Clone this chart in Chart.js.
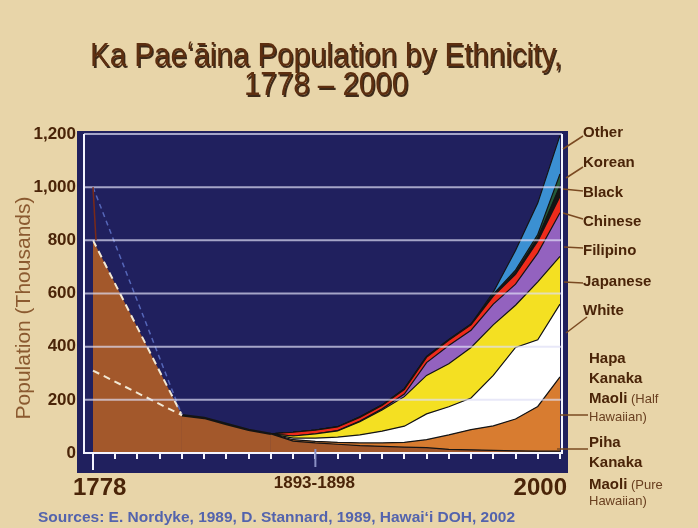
<!DOCTYPE html>
<html>
<head>
<meta charset="utf-8">
<script src="https://cdn.jsdelivr.net/npm/chart.js@4.4.0/dist/chart.umd.min.js"></script>
<style>
  html, body { margin: 0; padding: 0; background: #e8d5a9; }
  canvas { display: block; }
</style>
</head>
<body>
<canvas id="popChart" width="698" height="528"></canvas>
<script>
// Ka Pae'āina population by ethnicity, thousands
const years = ['1778', '1790', '1800', '1810', '1823', '1831', '1836', '1850', '1853', '1872',
  '1893-1898', '1900', '1910', '1920', '1930', '1940', '1950', '1960', '1970', '1980', '1990', '2000'];
const shownYears = ['1778', '1893-1898', '2000'];
const yTicks = [0, 200, 400, 600, 800, 1000, 1200];

const piha     = [800, null, null, null, 142, 132, 109, 87, 72, 45, 38, 33, 28, 25, 22, 20, 14, 12, 10, 8, 7, 7];
const hapa     = [null, null, null, null, null, null, null, null, 0, 5, 6, 7, 10, 13, 18, 30, 54, 76, 92, 120, 168, 279];
const white    = [null, null, null, null, null, null, null, null, 0, 6, 12, 20, 30, 44, 61, 97, 106, 119, 190, 269, 251, 274];
const japanese = [null, null, null, null, null, null, null, null, 0, 8, 16, 23, 50, 80, 111, 145, 162, 190, 190, 159, 218, 180];
const filipino = [null, null, null, null, null, null, null, null, 0, 0, 0, 1, 2, 4, 10, 48, 68, 65, 78, 79, 108, 164];
const chinese  = [null, null, null, null, null, null, null, null, 0, 14, 14, 14, 14, 13, 17, 20, 20, 20, 30, 37, 45, 61];
const black    = [null, null, null, null, null, null, null, null, 0, 0, 0, 0, 1, 1, 1, 1, 1, 1, 5, 8, 13, 40];
const korean   = [null, null, null, null, null, null, null, null, 0, 0, 0, 1, 0, 0, 1, 1, 1, 1, 3, 8, 12, 45];
const other    = [null, null, null, null, null, null, null, null, 0, 0, 0, 0, 1, 1, 1, 1, 1, 1, 7, 74, 118, 145];

// pre-contact estimates (300k and 1 million) drawn as dashed lines
const est300  = [310, null, null, null, 142, null, null, null, null, null, null, null, null, null, null, null, null, null, null, null, null, null];
const est1000 = [1000, null, null, null, 142, null, null, null, null, null, null, null, null, null, null, null, null, null, null, null, null, null];

const seriesNames = ['Piha Kanaka Maoli', 'Hapa Kanaka Maoli', 'White', 'Japanese', 'Filipino', 'Chinese', 'Black', 'Korean', 'Other'];
const seriesData = [piha, hapa, white, japanese, filipino, chinese, black, korean, other];
const seriesColors = ['#a3582b', '#d87c30', '#ffffff', '#f4e022', '#9362bf', '#ee2b1b', '#151515', '#245a3a', '#3b90d2'];

const brown = '#4a2408';

const datasets = seriesData.map((d, i) => ({
  label: seriesNames[i],
  data: d,
  backgroundColor: seriesColors[i],
  borderColor: '#141414',
  borderWidth: 1.2,
  fill: i === 0 ? 'origin' : '-1',
  spanGaps: true
}));

// the first (gap-spanning) segment of the Hawaiian line is the dashed 800k estimate
const isGap = c => c.p1DataIndex === 4;
datasets[0].segment = {
  borderColor: c => isGap(c) ? '#f2e8d4' : '#141414',
  borderDash: c => isGap(c) ? [7, 5] : undefined,
  borderWidth: c => isGap(c) ? 2 : (c.p1DataIndex <= 8 ? 2.5 : 1.2)
};

datasets.push({
  label: 'est300', data: est300, stack: 'e1', order: -1, fill: false, spanGaps: true,
  borderColor: '#f2e8d4', borderWidth: 2, borderDash: [7, 5]
});
datasets.push({
  label: 'est1000', data: est1000, stack: 'e2', order: -1, fill: false, spanGaps: true,
  borderColor: '#5566b8', borderWidth: 1.5, borderDash: [5, 4]
});

function fitText(c, text, x, y, scaleX, align) {
  c.save();
  c.translate(x, y);
  c.scale(scaleX, 1);
  c.textAlign = align;
  c.fillText(text, 0, 0);
  c.restore();
}

const slide = {
  id: 'slide',
  beforeDraw(chart) {
    const c = chart.ctx;
    c.save();
    c.fillStyle = '#e8d5a9';
    c.fillRect(0, 0, chart.width, chart.height);
    c.fillStyle = '#20205e';
    c.fillRect(77, 131, 491, 342);
    c.restore();
  },
  afterDatasetsDraw(chart) {
    const c = chart.ctx, y = chart.scales.y, x = chart.scales.x, a = chart.chartArea;
    c.save();
    // grid lines sit on top of the areas
    c.strokeStyle = 'rgba(222,222,245,0.7)';
    c.lineWidth = 2;
    yTicks.forEach(v => {
      if (v === 0) return;
      const py = y.getPixelForValue(v);
      c.beginPath(); c.moveTo(84, py); c.lineTo(562, py); c.stroke();
    });
    c.strokeStyle = '#f4f4ff';
    c.beginPath();
    c.moveTo(84, a.top); c.lineTo(84, a.bottom); c.lineTo(562, a.bottom); c.lineTo(562, a.top);
    c.stroke();
    // long tick at 1778, marker at 1893-1898
    const x0 = x.getPixelForValue(0);
    c.beginPath(); c.moveTo(x0, a.bottom); c.lineTo(x0, a.bottom + 17); c.stroke();
    const xm = x.getPixelForValue(years.indexOf('1893-1898'));
    c.strokeStyle = '#8a90c4';
    c.beginPath(); c.moveTo(xm, a.bottom - 4); c.lineTo(xm, a.bottom + 14); c.stroke();
    // short dark line marking the 1 million estimate
    c.strokeStyle = '#7a2a18';
    c.lineWidth = 1.5;
    c.beginPath(); c.moveTo(x0, y.getPixelForValue(1000)); c.lineTo(x0 + 3, y.getPixelForValue(800)); c.stroke();
    c.restore();
  },
  afterDraw(chart) {
    const c = chart.ctx, x = chart.scales.x;
    c.save();

    // title
    c.font = '33px "Liberation Sans", Arial, sans-serif';
    const line1 = 'Ka Paeʻāina Population by Ethnicity,';
    const k = 472 / c.measureText(line1).width;
    c.fillStyle = '#5e2f10';
    c.shadowColor = 'rgba(30,12,0,0.85)';
    c.shadowOffsetX = 1.5; c.shadowOffsetY = 1.5; c.shadowBlur = 0;
    fitText(c, line1, 326, 66, k, 'center');
    fitText(c, '1778 – 2000', 326, 95, k, 'center');
    c.shadowColor = 'transparent';

    // y title
    c.save();
    c.translate(24, 308);
    c.rotate(-Math.PI / 2);
    c.font = '21px "Liberation Sans", Arial, sans-serif';
    c.fillStyle = '#8b5a30';
    c.textAlign = 'center';
    c.textBaseline = 'middle';
    c.fillText('Population (Thousands)', 0, 0);
    c.restore();

    // x labels
    c.fillStyle = brown;
    c.textBaseline = 'alphabetic';
    years.forEach((lab, i) => {
      if (!shownYears.includes(lab)) return;
      const px = x.getPixelForValue(i);
      if (i === 0) {
        c.font = 'bold 24px "Liberation Sans", Arial, sans-serif';
        c.textAlign = 'left'; c.fillText(lab, px - 20, 495);
      } else if (i === years.length - 1) {
        c.font = 'bold 24px "Liberation Sans", Arial, sans-serif';
        c.textAlign = 'right'; c.fillText(lab, px + 7, 495);
      } else {
        c.font = 'bold 17px "Liberation Sans", Arial, sans-serif';
        c.textAlign = 'center'; c.fillText(lab, px - 1, 488);
      }
    });

    // series labels with leader lines
    const leaders = [
      [583, 136, 563, 149], [583, 167, 566, 178], [583, 191, 563, 189], [583, 219, 563, 213],
      [583, 248, 564, 247], [583, 283, 564, 282], [587, 317, 566, 333], [588, 415, 560, 415],
      [588, 449, 557, 449]
    ];
    c.strokeStyle = '#7a4a22';
    c.lineWidth = 1.5;
    leaders.forEach(l => { c.beginPath(); c.moveTo(l[0], l[1]); c.lineTo(l[2], l[3]); c.stroke(); });

    const single = [['Other', 133], ['Korean', 163], ['Black', 193], ['Chinese', 222],
      ['Filipino', 251], ['Japanese', 282], ['White', 311]];
    c.textAlign = 'left';
    c.textBaseline = 'middle';
    c.font = 'bold 15px "Liberation Sans", Arial, sans-serif';
    c.fillStyle = brown;
    single.forEach(s => c.fillText(s[0], 583, s[1]));

    const groups = [
      { rows: [['Hapa', 359], ['Kanaka', 379], ['Maoli', 399]], note: ' (Half', last: 417 },
      { rows: [['Piha', 443], ['Kanaka', 463], ['Maoli', 485]], note: ' (Pure', last: 501 }
    ];
    groups.forEach(g => {
      c.font = 'bold 15px "Liberation Sans", Arial, sans-serif';
      c.fillStyle = brown;
      g.rows.forEach(r => c.fillText(r[0], 589, r[1]));
      const w = c.measureText('Maoli').width;
      c.font = '13px "Liberation Sans", Arial, sans-serif';
      c.fillStyle = '#6a4020';
      c.fillText(g.note, 589 + w, g.rows[2][1]);
      c.fillText('Hawaiian)', 589, g.last);
    });

    // sources
    c.font = 'bold 14px "Liberation Sans", Arial, sans-serif';
    c.fillStyle = '#5363ad';
    c.textBaseline = 'alphabetic';
    const src = 'Sources: E. Nordyke, 1989, D. Stannard, 1989, Hawaiʻi DOH, 2002';
    fitText(c, src, 38, 522, 477 / c.measureText(src).width, 'left');

    c.restore();
  }
};

new Chart(document.getElementById('popChart'), {
  type: 'line',
  data: { labels: years, datasets: datasets },
  options: {
    responsive: false,
    animation: false,
    layout: { padding: { left: 0, right: 138, top: 134, bottom: 45 } },
    plugins: { legend: { display: false }, tooltip: { enabled: false } },
    elements: { point: { radius: 0 }, line: { tension: 0 } },
    scales: {
      x: {
        offset: false,
        ticks: { display: false },
        grid: { drawOnChartArea: false, drawTicks: true, tickLength: 6, tickColor: '#f4f4ff', lineWidth: 2 },
        border: { display: false },
        afterFit: s => { s.height = 30; }
      },
      y: {
        stacked: true,
        min: 0,
        max: 1200,
        ticks: {
          stepSize: 200,
          color: brown,
          padding: 17,
          font: { family: '"Liberation Sans", Arial, sans-serif', size: 17, weight: 'bold' }
        },
        grid: { display: false, drawTicks: false },
        border: { display: false },
        afterFit: s => { s.width = 93; }
      }
    }
  },
  plugins: [slide]
});
</script>
</body>
</html>
